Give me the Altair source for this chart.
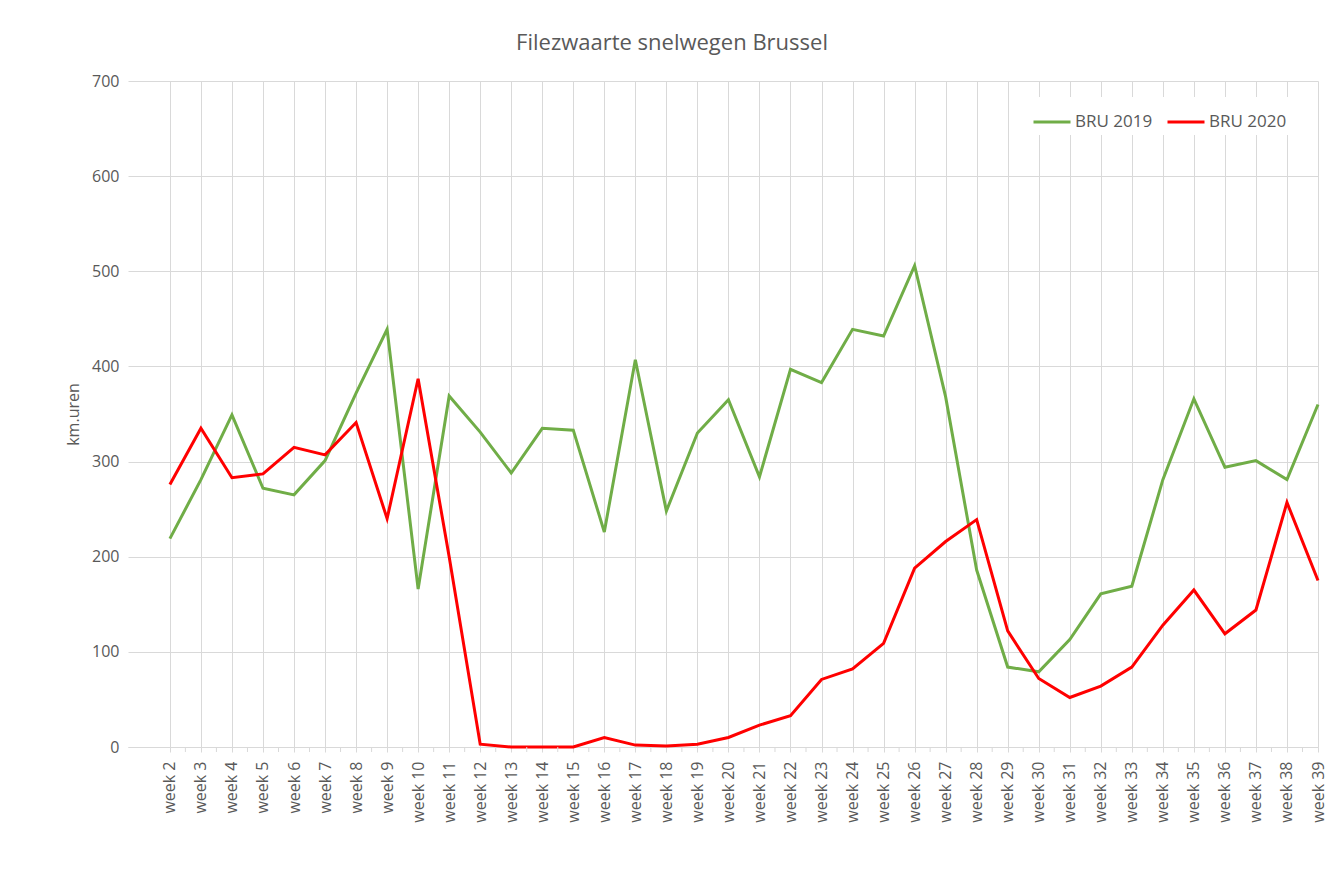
import altair as alt
import pandas as pd

weeks = [2, 3, 4, 5, 6, 7, 8, 9, 10, 11, 12, 13, 14, 15, 16, 17, 18, 19, 20,
         21, 22, 23, 24, 25, 26, 27, 28, 29, 30, 31, 32, 33, 34, 35, 36, 37, 38, 39]
bru_2019 = [219, 281, 349, 272, 265, 301, 372, 439, 166, 369, 331, 288, 335, 333,
            226, 407, 248, 330, 365, 284, 397, 383, 439, 432, 506, 368, 186, 84,
            79, 113, 161, 169, 281, 366, 294, 301, 281, 360]
bru_2020 = [276, 335, 283, 287, 315, 307, 341, 240, 387, 200, 3, 0, 0, 0,
            10, 2, 1, 3, 10, 23, 33, 71, 82, 109, 188, 216, 239, 122,
            72, 52, 64, 84, 128, 165, 119, 144, 257, 175]
series_names = ["BRU 2019", "BRU 2020"]
series_colors = ["#70AD47", "#FF0000"]
y_ticks = [0, 100, 200, 300, 400, 500, 600, 700]

df = pd.DataFrame({
    "week": weeks + weeks,
    "value": bru_2019 + bru_2020,
    "series": [series_names[0]] * len(weeks) + [series_names[1]] * len(weeks),
})

FONT = "Open Sans"
GREY = "#595959"
GRID = "#D9D9D9"

x_scale = alt.Scale(domain=[0.65, 39], nice=False, zero=False)
x_axis = alt.Axis(values=weeks, labelExpr="'week ' + datum.value",
                  labelAngle=-90, labelFontSize=16, labelColor=GREY,
                  labelFont=FONT, labelPadding=9, tickSize=5,
                  tickColor=GRID, domainColor=GRID, gridColor=GRID,
                  grid=True, title=None, labelOverlap=False,
                  labelBound=False, labelFlush=False)

lines = alt.Chart(df).mark_line(strokeWidth=3).encode(
    x=alt.X("week:Q", scale=x_scale, axis=x_axis),
    y=alt.Y("value:Q", scale=alt.Scale(domain=[0, 700], nice=False),
            axis=alt.Axis(values=y_ticks, title="km.uren", titleFontSize=16,
                          titleFontWeight="normal", titleColor=GREY, titleFont=FONT,
                          labelFontSize=16, labelColor=GREY, labelFont=FONT,
                          domain=False, ticks=False, labelPadding=9,
                          gridColor=GRID, titlePadding=10)),
    color=alt.Color("series:N",
                    scale=alt.Scale(domain=series_names, range=series_colors),
                    legend=alt.Legend(orient="none", legendX=899, legendY=16,
                                      direction="horizontal", title=None,
                                      symbolType="stroke", symbolSize=1369,
                                      symbolStrokeWidth=3, labelFontSize=17,
                                      labelColor=GREY, labelFont=FONT,
                                      fillColor="white", padding=5,
                                      columnPadding=8, labelOffset=3)),
)

minor = alt.Chart(pd.DataFrame({"week": weeks[:-1]})).transform_calculate(
    mid="datum.week + 0.5"
).mark_rule(color=GRID, strokeWidth=1).encode(
    x=alt.X("mid:Q", scale=x_scale, axis=x_axis),
    y=alt.value(666),
    y2=alt.value(671),
)

chart = alt.layer(lines, minor).properties(
    width=1190,
    height=666,
    title=alt.TitleParams("Filezwaarte snelwegen Brussel", fontSize=22, font=FONT,
                          color=GREY, fontWeight="normal", anchor="middle",
                          dx=-51, offset=18),
    autosize=alt.AutoSizeParams(type="none"),
    padding={"left": 120, "top": 73, "right": 10, "bottom": 120},
).configure(
    background="white",
    view=alt.ViewConfig(stroke="transparent", strokeOpacity=0, strokeWidth=0),
)

chart.save("out.html", embed_options={"renderer": "svg", "actions": False})
